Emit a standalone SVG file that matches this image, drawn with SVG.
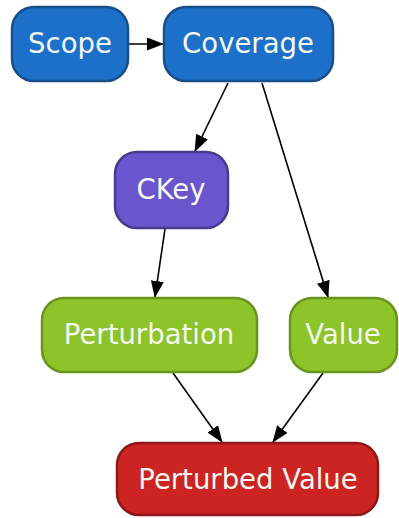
<svg xmlns="http://www.w3.org/2000/svg" width="399" height="518" viewBox="0 0 399 518">
<defs>
<style>
.n{stroke-width:2.5}
.b{fill:#1d70c9;stroke:#174f8c}
.p{fill:#6a55cf;stroke:#473a8f}
.g{fill:#8dc42a;stroke:#6a9420}
.r{fill:#cc2323;stroke:#8e1818}
text{font-family:"DejaVu Sans",sans-serif;font-size:27.5px;fill:#f4f8f0;text-anchor:middle}
.e{stroke:#000;stroke-width:1.6;fill:none;marker-end:url(#a)}
</style>
<marker id="a" viewBox="0 0 17 13" refX="16" refY="6.5" markerWidth="17" markerHeight="13" markerUnits="userSpaceOnUse" orient="auto"><path d="M0,0L17,6.5L0,13z" fill="#000"/></marker>
</defs>
<rect width="399" height="518" fill="#fff"/>
<g id="edges">
<path class="e" d="M129,44L163,44"/>
<path class="e" d="M228,83L195,151"/>
<path class="e" d="M262,83L328,297"/>
<path class="e" d="M165,229L155,297"/>
<path class="e" d="M173,373L222,442"/>
<path class="e" d="M323,373L273,442"/>
</g>
<g id="scope"><rect class="n b" x="12" y="7" width="116" height="74" rx="22"/><text x="70" y="53">Scope</text></g>
<g id="coverage"><rect class="n b" x="164" y="7" width="169" height="74" rx="22"/><text x="248" y="53">Coverage</text></g>
<g id="ckey"><rect class="n p" x="115" y="152" width="113" height="76" rx="22"/><text x="171" y="199">CKey</text></g>
<g id="perturbation"><rect class="n g" x="42" y="298" width="215" height="74" rx="22"/><text x="149" y="344">Perturbation</text></g>
<g id="value"><rect class="n g" x="290" y="298" width="107" height="74" rx="22"/><text x="343" y="344">Value</text></g>
<g id="perturbed"><rect class="n r" x="117" y="443" width="261" height="72" rx="22"/><text x="248" y="489">Perturbed Value</text></g>
</svg>
